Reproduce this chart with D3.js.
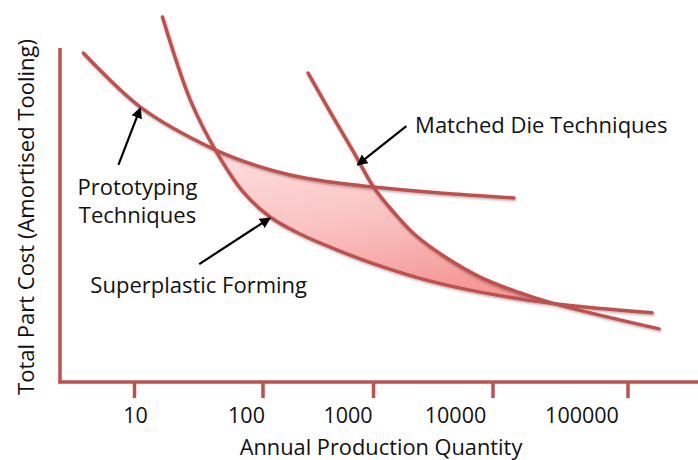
<!DOCTYPE html>
<html>
<head>
<meta charset="utf-8">
<script src="https://cdn.jsdelivr.net/npm/d3@7/dist/d3.min.js"></script>
<style>
  html, body { margin: 0; padding: 0; background: #fff; }
  svg text { font-family: "Open Sans", "Noto Sans", sans-serif; fill: #111; }
</style>
</head>
<body>
<svg id="chart" width="698" height="460"></svg>
<script>
// ---- Data (quantity on log axis, relative cost 0..100) ----
const tickValues = [10, 100, 1000, 10000, 100000];
const tickLabels = ["10", "100", "1000", "10000", "100000"];

const prototypingQty  = [4, 11.1, 42.5, 90, 176, 351, 1000, 3615, 14300];
const prototypingCost = [98.5, 82.3, 69.5, 64.7, 62.0, 60.2, 58.4, 56.6, 55.1];

const superplasticQty  = [16.5, 27.2, 42.5, 70, 115.8, 216.8, 470.6, 1144, 2985, 7793, 28770, 150600];
const superplasticCost = [109.3, 84.4, 69.5, 56.9, 49.4, 44.3, 39.5, 34.7, 30.2, 26.9, 23.4, 20.7];

const matchedDieQty  = [256, 406, 644, 1000, 1468, 2239, 3981, 7793, 14560, 28770, 169900];
const matchedDieCost = [92.5, 80.8, 69.5, 58.4, 50.9, 44.0, 37.4, 31.4, 27.2, 23.4, 15.9];

// crossings bounding the shaded region
const shadeStartQty = 42.5;   // prototyping x superplastic
const shadeMidQty = 1000;     // prototyping x matched die
const shadeEndQty = 28770;    // matched die x superplastic

// annotations: label text and arrow (tail -> tip) in data space
const annotations = [
  { lines: ["Prototyping", "Techniques"], labelQty: 10.55, labelCost: 56.0, anchor: "middle",
    tailQty: 7.5, tailCost: 65.0, tipQty: 11.1, tipCost: 82.0 },
  { lines: ["Matched Die Techniques"], labelQty: 2230, labelCost: 74.5, anchor: "start",
    tailQty: 1884, tailCost: 76.6, tipQty: 716, tipCost: 65.0 },
  { lines: ["Superplastic Forming"], labelQty: 31.6, labelCost: 26.6, anchor: "middle",
    tailQty: 31.9, tailCost: 35.3, tipQty: 115.8, tipCost: 49.1 }
];

const xTitle = "Annual Production Quantity";
const yTitle = "Total Part Cost (Amortised Tooling)";

// ---- Layout ----
const axisLeft = 60, axisBottom = 382, axisTop = 48, axisRight = 698;
const red = "#c0504d";

const svg = d3.select("#chart");

// piecewise log scale (hand-drawn axis with uneven decades)
const x = d3.scaleLog().domain(tickValues).range([134.5, 263, 373.5, 493, 628]);
const xLabel = d3.scaleLog().domain(tickValues).range([135.5, 246.5, 348, 455.5, 582]);
const y = d3.scaleLinear().domain([0, 100]).range([axisBottom, axisTop]);

const defs = svg.append("defs");
const grad = defs.append("linearGradient").attr("id", "shade")
  .attr("x1", 0).attr("y1", 0).attr("x2", 0.35).attr("y2", 1);
grad.append("stop").attr("offset", "0%").attr("stop-color", "#fde0df");
grad.append("stop").attr("offset", "55%").attr("stop-color", "#f9c2c1");
grad.append("stop").attr("offset", "100%").attr("stop-color", "#f49a99");

const shadow = defs.append("filter").attr("id", "shadow")
  .attr("x", "-10%").attr("y", "-10%").attr("width", "130%").attr("height", "130%");
shadow.append("feDropShadow").attr("dx", 0.8).attr("dy", 1.5)
  .attr("stdDeviation", 1).attr("flood-color", "#000").attr("flood-opacity", 0.3);

defs.append("marker").attr("id", "arrow")
  .attr("viewBox", "0 0 10 10").attr("refX", 9).attr("refY", 5)
  .attr("markerWidth", 5).attr("markerHeight", 5).attr("orient", "auto")
  .attr("markerUnits", "strokeWidth")
  .append("path").attr("d", "M0,0 L10,5 L0,10 Z").attr("fill", "#000");

const zip = (qs, cs) => qs.map((q, i) => [q, cs[i]]);
const P = zip(prototypingQty, prototypingCost);
const S = zip(superplasticQty, superplasticCost);
const M = zip(matchedDieQty, matchedDieCost);

const line = d3.line().x(d => x(d[0])).y(d => y(d[1])).curve(d3.curveCatmullRom.alpha(0.5));

// shaded region
const within = (arr, a, b) => arr.filter(d => d[0] >= a - 1e-9 && d[0] <= b + 1e-9);
const upper1 = within(P, shadeStartQty, shadeMidQty);
const upper2 = within(M, shadeMidQty, shadeEndQty);
const lower = within(S, shadeStartQty, shadeEndQty).reverse();
const shadePath = line(upper1) + "L" + line(upper2).slice(1) + "L" + line(lower).slice(1) + "Z";
svg.append("path").attr("d", shadePath).attr("fill", "url(#shade)").attr("stroke", "none");

// axes
const axisG = svg.append("g");
axisG.append("line").attr("x1", axisLeft).attr("x2", axisLeft)
  .attr("y1", axisTop).attr("y2", axisBottom + 1.5)
  .attr("stroke", red).attr("stroke-width", 3.5);
axisG.append("line").attr("x1", axisLeft - 1.5).attr("x2", axisRight)
  .attr("y1", axisBottom).attr("y2", axisBottom)
  .attr("stroke", red).attr("stroke-width", 3.5);
axisG.selectAll(".tick").data(tickValues).enter().append("line")
  .attr("x1", d => x(d)).attr("x2", d => x(d))
  .attr("y1", axisBottom).attr("y2", axisBottom + 16)
  .attr("stroke", red).attr("stroke-width", 3.5);
axisG.selectAll(".tl").data(tickValues).enter().append("text")
  .attr("x", d => xLabel(d)).attr("y", 423)
  .attr("text-anchor", "middle").attr("font-size", 21.5)
  .text((d, i) => tickLabels[i]);

svg.append("text").attr("x", 381).attr("y", 455).attr("text-anchor", "middle")
  .attr("font-size", 21.8).text(xTitle);
svg.append("text").attr("transform", "translate(34,217) rotate(-90)")
  .attr("text-anchor", "middle").attr("font-size", 22).text(yTitle);

// curves
const curves = svg.append("g").attr("filter", "url(#shadow)");
[P, S, M].forEach(pts => {
  curves.append("path").attr("d", line(pts)).attr("fill", "none")
    .attr("stroke", red).attr("stroke-width", 3.5).attr("stroke-linecap", "round");
});

// annotations
annotations.forEach(a => {
  svg.append("line")
    .attr("x1", x(a.tailQty)).attr("y1", y(a.tailCost))
    .attr("x2", x(a.tipQty)).attr("y2", y(a.tipCost))
    .attr("stroke", "#000").attr("stroke-width", 2.2)
    .attr("marker-end", "url(#arrow)");
  const t = svg.append("text").attr("x", x(a.labelQty)).attr("y", y(a.labelCost))
    .attr("text-anchor", a.anchor).attr("font-size", 22);
  a.lines.forEach((l, i) => {
    t.append("tspan").attr("x", x(a.labelQty)).attr("dy", i === 0 ? 0 : 28).text(l);
  });
});
</script>
</body>
</html>
